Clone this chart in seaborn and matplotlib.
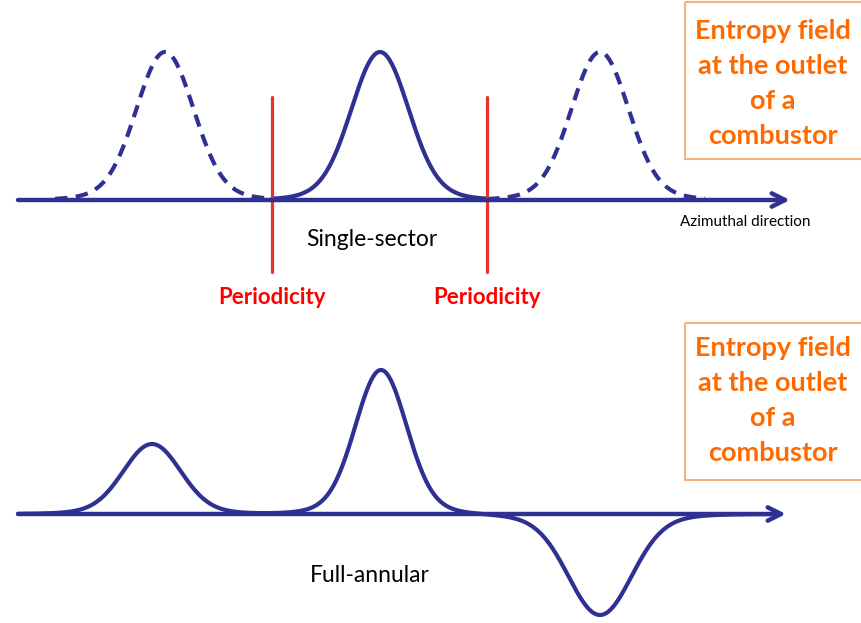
import numpy as np
import pandas as pd
import matplotlib.pyplot as plt
import seaborn as sns
from matplotlib.patches import Rectangle

# Schematic of entropy-spot periodicity, drawn in pixel-like coordinates
# peaks: centre, amplitude (positive = upward), width
top_centers = [165, 380, 600]
top_heights = [148, 148, 148]
top_widths = [28, 28, 28]
top_styles = ["dashed", "solid", "dashed"]
top_ranges = [(55, 272), (272, 487), (487, 705)]

bottom_centers = [152, 381, 600]
bottom_heights = [70, 144, -101]
bottom_widths = [28, 25, 31]

periodicity_x = [272, 487]
box_lines = ["Entropy field", "at the outlet", "of a", "combustor"]

BLUE = "#2f3192"
RED = "#e8322b"
ORANGE = "#ff6a00"

sns.set_theme(style="white")
plt.rcParams["font.family"] = ["Lato", "DejaVu Sans"]

fig = plt.figure(figsize=(8.62, 6.23), dpi=100)
ax = fig.add_axes([0, 0, 1, 1])
ax.set_xlim(0, 862)
ax.set_ylim(623, 0)
ax.axis("off")


def bump(x, c, h, w):
    # bell shape with slightly heavier skirts than a plain gaussian
    z = (x - c) / w
    return h * (0.92 * np.exp(-0.5 * z ** 2) + 0.08 * np.exp(-0.5 * (z / 1.8) ** 2))


arrow = dict(arrowstyle="->,head_length=0.8,head_width=0.4",
             color=BLUE, lw=3.2, shrinkA=0, shrinkB=0)

# ---- top panel: single sector ----
y0_top = 200
ax.annotate("", xy=(790, y0_top), xytext=(18, y0_top), arrowprops=arrow)
rows = []
for i, (c, h, w, (a, b)) in enumerate(zip(top_centers, top_heights, top_widths, top_ranges)):
    xs = np.linspace(a, b, 200)
    rows.append(pd.DataFrame({"x": xs, "y": y0_top - bump(xs, c, h, w), "peak": i}))
top_df = pd.concat(rows)
for i, style in enumerate(top_styles):
    sub = top_df[top_df["peak"] == i]
    ls = (0, (3, 2)) if style == "dashed" else "-"
    sns.lineplot(data=sub, x="x", y="y", ax=ax, color=BLUE, lw=3, linestyle=ls,
                 sort=False, estimator=None)

for px in periodicity_x:
    ax.plot([px, px], [97, 272], color=RED, lw=2.3)
    ax.text(px, 297, "Periodicity", color="#ff0000", fontsize=16, fontweight="bold",
            ha="center", va="center")

ax.text(372, 240, "Single-sector", fontsize=16.5, color="black", ha="center", va="center")
ax.text(680, 222, "Azimuthal direction", fontsize=11, color="black", ha="left", va="center")

# ---- bottom panel: full annular ----
y0_bot = 514
ax.annotate("", xy=(786, y0_bot), xytext=(18, y0_bot), arrowprops=arrow)
xs = np.linspace(18, 770, 800)
ys = np.zeros_like(xs)
for c, h, w in zip(bottom_centers, bottom_heights, bottom_widths):
    ys = ys + bump(xs, c, h, w)
bot_df = pd.DataFrame({"x": xs, "y": y0_bot - ys})
sns.lineplot(data=bot_df, x="x", y="y", ax=ax, color=BLUE, lw=3, sort=False, estimator=None)

ax.text(370, 575, "Full-annular", fontsize=16.5, color="black", ha="center", va="center")

# ---- annotation boxes ----
for top, first in [(2, 31), (323, 348)]:
    ax.add_patch(Rectangle((685, top), 190, 157, fill=False, edgecolor="#f6b183", lw=1.5))
    for k, line in enumerate(box_lines):
        ax.text(773, first + 35 * k, line, color=ORANGE, fontsize=19.5,
                fontweight="bold", ha="center", va="center")

ax.set_xlabel("")
ax.set_ylabel("")
fig.savefig("out.png", dpi=100)
